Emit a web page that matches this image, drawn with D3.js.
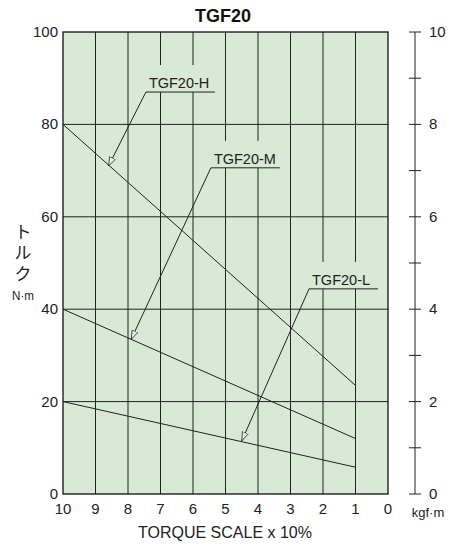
<!DOCTYPE html>
<html><head><meta charset="utf-8">
<script src="https://cdn.jsdelivr.net/npm/d3@7"></script>
<style>body{margin:0;background:#fff;font-family:"Liberation Sans",Arial,sans-serif}</style>
</head><body><svg id="fig" width="460" height="550"></svg>
<script>
var xTicks = [10, 9, 8, 7, 6, 5, 4, 3, 2, 1, 0];
var yTicks = [0, 20, 40, 60, 80, 100];
var kgfTicks = [0, 2, 4, 6, 8, 10];
var seriesNames = ['TGF20-H', 'TGF20-M', 'TGF20-L'];
var seriesStart = [80, 40, 20];   // torque at scale 10
var seriesEnd = [23.5, 12, 5.8];  // torque at scale 1
// label underline start (scale, torque) and arrow tip (scale, torque)
var labelAt = [[7.45, 87], [5.45, 70.6], [2.43, 44.4]];
var arrowTip = [[8.6, 71], [7.9, 33.5], [4.5, 11.5]];

var svg = d3.select('#fig');
var x = d3.scaleLinear().domain([10, 0]).range([63, 388]);
var y = d3.scaleLinear().domain([0, 100]).range([494, 32]);
var y2 = d3.scaleLinear().domain([0, 10]).range([494, 32]);

svg.append('rect').attr('x', 63).attr('y', 32).attr('width', 325).attr('height', 462)
  .attr('fill', '#d8e9d5');

svg.selectAll('.vg').data(xTicks.slice(1, -1)).enter().append('line')
  .attr('x1', x).attr('x2', x).attr('y1', 32).attr('y2', 494)
  .attr('stroke', '#222').attr('stroke-width', 1);
svg.selectAll('.hg').data(yTicks.slice(1, -1)).enter().append('line')
  .attr('x1', 63).attr('x2', 388).attr('y1', y).attr('y2', y)
  .attr('stroke', '#222').attr('stroke-width', 1);

// label backgrounds cover the grid
seriesNames.forEach(function(n, i) {
  var lx = x(labelAt[i][0]), ly = y(labelAt[i][1]);
  svg.append('rect').attr('x', lx - 2).attr('y', ly - 27).attr('width', 72).attr('height', 27)
    .attr('fill', '#d8e9d5');
});

svg.append('rect').attr('x', 63).attr('y', 32).attr('width', 325).attr('height', 462)
  .attr('fill', 'none').attr('stroke', '#111').attr('stroke-width', 1.3);

svg.selectAll('.ser').data(seriesNames).enter().append('line')
  .attr('x1', x(10)).attr('y1', function(d, i) { return y(seriesStart[i]); })
  .attr('x2', x(1)).attr('y2', function(d, i) { return y(seriesEnd[i]); })
  .attr('stroke', '#222').attr('stroke-width', 1);

svg.append('defs').append('marker').attr('id', 'arr').attr('viewBox', '0 0 10 10')
  .attr('refX', 10).attr('refY', 5).attr('markerWidth', 9).attr('markerHeight', 9)
  .attr('orient', 'auto').attr('markerUnits', 'userSpaceOnUse')
  .append('path').attr('d', 'M0,1.5L10,5L0,8.5Z').attr('fill', '#eee').attr('stroke', '#222').attr('stroke-width', 0.8);

seriesNames.forEach(function(n, i) {
  var lx = x(labelAt[i][0]), ly = y(labelAt[i][1]);
  svg.append('text').attr('x', lx + 3).attr('y', ly - 4).text(n)
    .attr('font-size', 14.5).attr('fill', '#222');
  svg.append('path').attr('d', 'M' + (lx + 69) + ',' + ly + 'H' + lx + 'L' + x(arrowTip[i][0]) + ',' + y(arrowTip[i][1]))
    .attr('fill', 'none').attr('stroke', '#222').attr('stroke-width', 1)
    .attr('marker-end', 'url(#arr)');
});

// left labels
svg.selectAll('.yl').data(yTicks).enter().append('text')
  .attr('x', 58).attr('y', function(d) { return y(d) + 5; }).attr('text-anchor', 'end')
  .attr('font-size', 15).attr('fill', '#222').text(function(d) { return d; });
svg.selectAll('.xl').data(xTicks).enter().append('text')
  .attr('x', x).attr('y', 514).attr('text-anchor', 'middle')
  .attr('font-size', 15).attr('fill', '#222').text(function(d) { return d; });

// right axis
var ax = svg.append('g').attr('transform', 'translate(415,0)');
ax.append('line').attr('y1', 32).attr('y2', 494).attr('stroke', '#222');
ax.selectAll('.t').data(d3.range(0, 11)).enter().append('line')
  .attr('x1', -6).attr('x2', 6).attr('y1', y2).attr('y2', y2).attr('stroke', '#222');
ax.selectAll('.tl').data(kgfTicks).enter().append('text')
  .attr('x', 14).attr('y', function(d) { return y2(d) + 5; })
  .attr('font-size', 15).attr('fill', '#222').text(function(d) { return d; });

svg.append('text').attr('x', 223).attr('y', 22).attr('text-anchor', 'middle')
  .attr('font-size', 18).attr('font-weight', 'bold').attr('fill', '#111').text('TGF20');
svg.append('text').attr('x', 225).attr('y', 538).attr('text-anchor', 'middle')
  .attr('font-size', 16).attr('fill', '#222').text('TORQUE SCALE x 10%');
['ト', 'ル', 'ク'].forEach(function(c, i) {
  svg.append('text').attr('x', 23).attr('y', 238 + i * 21).attr('text-anchor', 'middle')
    .attr('font-family', 'Noto Sans CJK JP').attr('font-size', 17).attr('fill', '#222').text(c);
});
svg.append('text').attr('x', 23).attr('y', 300).attr('text-anchor', 'middle')
  .attr('font-size', 13).attr('textLength', 22).attr('lengthAdjust', 'spacingAndGlyphs').attr('fill', '#222').text('N·m');
svg.append('text').attr('x', 428).attr('y', 517).attr('text-anchor', 'middle')
  .attr('font-size', 13).attr('fill', '#222').text('kgf·m');
</script></body></html>
